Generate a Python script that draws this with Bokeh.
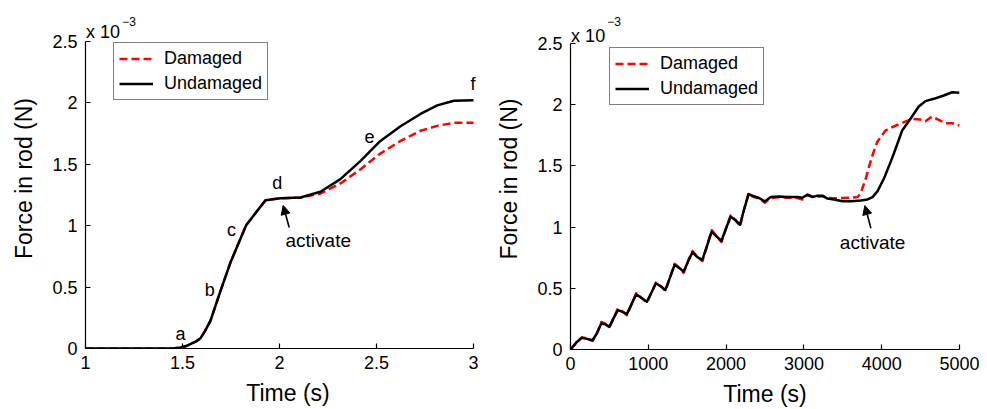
from bokeh.plotting import figure
from bokeh.layouts import row
from bokeh.models import (Legend, LegendItem, Label, Arrow, NormalHead, FixedTicker,
                          Range1d, CustomJSTickFormatter)
from bokeh.embed import file_html
from bokeh.resources import INLINE

FONT = "Liberation Sans"

# ---------------- data (force in units of 1e-3 N) ----------------
left_time = [1.0, 1.3, 1.45, 1.49, 1.515, 1.54, 1.57, 1.593, 1.615, 1.644, 1.696, 1.747, 1.828,
             1.928, 2.005, 2.108, 2.211, 2.314, 2.418, 2.52, 2.624, 2.727, 2.813, 2.899, 3.0]
left_undamaged = [0, 0, 0, 0.008, 0.018, 0.035, 0.058, 0.084, 0.14, 0.225, 0.47, 0.70, 1.004,
                  1.208, 1.224, 1.23, 1.276, 1.379, 1.528, 1.69, 1.81, 1.91, 1.98, 2.017, 2.022]
left_damaged = [0, 0, 0, 0.008, 0.018, 0.035, 0.058, 0.084, 0.14, 0.225, 0.47, 0.70, 1.004,
                1.208, 1.224, 1.228, 1.262, 1.344, 1.46, 1.588, 1.69, 1.773, 1.813, 1.838, 1.838]

right_time_und = [0, 81, 145, 210, 283, 339, 395, 446, 498, 553, 609, 669, 725, 789, 845, 918,
                  982, 1046, 1098, 1167, 1219, 1283, 1338, 1403, 1454, 1519, 1568, 1631, 1695,
                  1759, 1815, 1879, 1940, 2008, 2059, 2124, 2179, 2230, 2290, 2338, 2424, 2497,
                  2574, 2681, 2789, 2918, 2980, 3046, 3111, 3175, 3239, 3303, 3385, 3496, 3604,
                  3732, 3818, 3883, 3947, 4033, 4119, 4155, 4263, 4370, 4477, 4562, 4670, 4798,
                  4905, 5000]
right_undamaged = [0, 0.062, 0.095, 0.087, 0.076, 0.131, 0.213, 0.207, 0.185, 0.254, 0.322,
                   0.308, 0.289, 0.377, 0.451, 0.418, 0.39, 0.472, 0.541, 0.513, 0.486, 0.595,
                   0.691, 0.664, 0.636, 0.732, 0.795, 0.754, 0.732, 0.855, 0.964, 0.923, 0.888,
                   1.005, 1.087, 1.054, 1.019, 1.142, 1.27, 1.257, 1.238, 1.210, 1.246, 1.251,
                   1.246, 1.246, 1.24, 1.265, 1.246, 1.257, 1.257, 1.233, 1.226, 1.212, 1.212,
                   1.217, 1.226, 1.245, 1.294, 1.403, 1.539, 1.599, 1.789, 1.885, 1.985, 2.029,
                   2.048, 2.075, 2.102, 2.097]

right_time_dam = [0, 81, 145, 210, 283, 339, 395, 446, 498, 553, 609, 669, 725, 789, 845, 918,
                  982, 1046, 1098, 1167, 1219, 1283, 1338, 1403, 1454, 1519, 1568, 1631, 1695,
                  1759, 1815, 1879, 1940, 2008, 2059, 2124, 2179, 2230, 2290, 2338, 2424, 2497,
                  2574, 2681, 2789, 2918, 2980, 3046, 3111, 3175, 3239, 3303, 3385, 3496, 3604,
                  3690, 3732, 3797, 3840, 3883, 3941, 4048, 4155, 4284, 4391, 4498, 4562, 4648,
                  4734, 4820, 4905, 5000]
right_damaged = [0, 0.058, 0.1, 0.09, 0.07, 0.131, 0.225, 0.212, 0.178, 0.254, 0.335, 0.312,
                 0.28, 0.377, 0.46, 0.42, 0.382, 0.472, 0.548, 0.515, 0.478, 0.595, 0.70, 0.666,
                 0.626, 0.732, 0.805, 0.756, 0.722, 0.855, 0.975, 0.925, 0.878, 1.005, 1.095,
                 1.056, 1.008, 1.142, 1.28, 1.25, 1.232, 1.20, 1.236, 1.245, 1.24, 1.238, 1.226,
                 1.262, 1.248, 1.25, 1.252, 1.238, 1.236, 1.238, 1.24, 1.245, 1.28, 1.40, 1.50,
                 1.59, 1.694, 1.789, 1.822, 1.857, 1.885, 1.879, 1.865, 1.904, 1.876, 1.849,
                 1.849, 1.83]

left_xticks = [1, 1.5, 2, 2.5, 3]
right_xticks = [0, 1000, 2000, 3000, 4000, 5000]
yticks = [0, 0.5, 1, 1.5, 2, 2.5]

series_names = ["Damaged", "Undamaged"]
exponent_text = ["x 10", "\u22123"]

# point annotations (letters) on the left panel
left_letters = ["a", "b", "c", "d", "e", "f"]
left_letter_t = [1.49, 1.641, 1.753, 1.988, 2.464, 2.998]
left_letter_f = [0.117, 0.48, 0.966, 1.344, 1.724, 2.153]

# "activate" annotation: text position, arrow tail and head
left_activate = dict(tx=2.031, ty=0.882, x0=2.05, y0=0.985, x1=2.019, y1=1.165)
right_activate = dict(tx=3462, ty=0.877, x0=3861, y0=0.99, x1=3784, y1=1.176)

# exponent annotation anchors (data coords): base text and superscript
left_exp = dict(x=1.003, y=2.576, sx=1.19, sy=2.665)
right_exp = dict(x=8, y=2.565, sx=472, sy=2.68)

fmt = CustomJSTickFormatter(code="return String(tick);")


def style(p, xticks, xbounds):
    p.outline_line_color = None
    p.grid.visible = False
    p.background_fill_color = "white"
    p.border_fill_color = "white"
    for ax in (p.xaxis, p.yaxis):
        ax.axis_line_color = "black"
        ax.axis_line_width = 1.2
        ax.major_tick_line_color = "black"
        ax.major_tick_line_width = 1.2
        ax.major_tick_in = 5
        ax.major_tick_out = 0
        ax.minor_tick_in = 0
        ax.minor_tick_out = 0
        ax.major_label_text_font = FONT
        ax.major_label_text_font_size = "18px"
        ax.major_label_text_color = "black"
        ax.axis_label_text_font = FONT
        ax.axis_label_text_font_size = "23px"
        ax.axis_label_text_font_style = "normal"
        ax.axis_label_text_color = "black"
        ax.formatter = fmt
    p.xaxis.ticker = FixedTicker(ticks=xticks)
    p.yaxis.ticker = FixedTicker(ticks=yticks)
    p.xaxis.bounds = xbounds
    p.yaxis.bounds = (yticks[0], yticks[-1])
    p.xaxis.major_label_standoff = 7
    p.yaxis.major_label_standoff = 8
    p.xaxis.axis_label_standoff = 8
    p.yaxis.axis_label_standoff = 12


def add_common(p, t_d, f_d, t_u, f_u, act, legend_loc, exp):
    rd = p.line(t_d, f_d, line_color="#ff0000", line_width=2.5, line_dash="8 4",
                line_join="round")
    bk = p.line(t_u, f_u, line_color="black", line_width=2.5, line_join="round")
    leg = Legend(items=[LegendItem(label=series_names[0], renderers=[rd]),
                        LegendItem(label=series_names[1], renderers=[bk])],
                 location=legend_loc)
    leg.border_line_color = "black"
    leg.border_line_width = 1.2
    leg.background_fill_alpha = 1
    leg.label_text_font = FONT
    leg.label_text_font_size = "18px"
    leg.label_text_color = "black"
    leg.glyph_width = 34
    leg.glyph_height = 19
    leg.label_height = 19
    leg.label_standoff = 11
    leg.spacing = 4
    leg.padding = 5
    leg.margin = 0
    p.add_layout(leg, "center")
    p.add_layout(Label(x=act["tx"], y=act["ty"], text="activate", text_font=FONT,
                       text_font_size="19px", text_color="black",
                       text_baseline="middle", text_align="left"))
    p.add_layout(Arrow(x_start=act["x0"], y_start=act["y0"], x_end=act["x1"], y_end=act["y1"],
                       line_width=1.6, line_color="black",
                       end=NormalHead(size=9, fill_color="black", line_color="black")))
    p.add_layout(Label(x=exp["x"], y=exp["y"], text=exponent_text[0], text_font=FONT,
                       text_font_size="18px", text_color="black",
                       text_baseline="alphabetic", text_align="left"))
    p.add_layout(Label(x=exp["sx"], y=exp["sy"], text=exponent_text[1], text_font=FONT,
                       text_font_size="12px", text_color="black",
                       text_baseline="alphabetic", text_align="left"))


# ---------------- left panel ----------------
# frame extends above 2.5 and right of 3 so that annotations there are not clipped;
# axis bounds keep the axes at the data extent.
p1 = figure(frame_width=405, frame_height=340, x_range=Range1d(1, 3.0876),
            y_range=Range1d(0, 2.7687),
            output_backend="svg", toolbar_location=None,
            min_border_left=85, min_border_right=0, min_border_top=8, min_border_bottom=53,
            x_axis_label="Time (s)", y_axis_label="Force in rod (N)")
style(p1, left_xticks, (left_xticks[0], left_xticks[-1]))
add_common(p1, left_time, left_damaged, left_time, left_undamaged, left_activate, (28, 248),
           left_exp)
for s, tx, fy in zip(left_letters, left_letter_t, left_letter_f):
    p1.add_layout(Label(x=tx, y=fy, text=s, text_font=FONT, text_font_size="18px",
                        text_color="black", text_align="center", text_baseline="middle"))

# ---------------- right panel ----------------
p2 = figure(frame_width=389, frame_height=341, x_range=Range1d(0, 5000),
            y_range=Range1d(0, 2.786),
            output_backend="svg", toolbar_location=None,
            min_border_left=80, min_border_right=20, min_border_top=8, min_border_bottom=52,
            x_axis_label="Time (s)", y_axis_label="Force in rod (N)")
style(p2, right_xticks, (right_xticks[0], right_xticks[-1]))
add_common(p2, right_time_dam, right_damaged, right_time_und, right_undamaged, right_activate,
           (39, 244), right_exp)

layout = row(p1, p2)
open("out.html", "w").write(file_html(layout, INLINE))
